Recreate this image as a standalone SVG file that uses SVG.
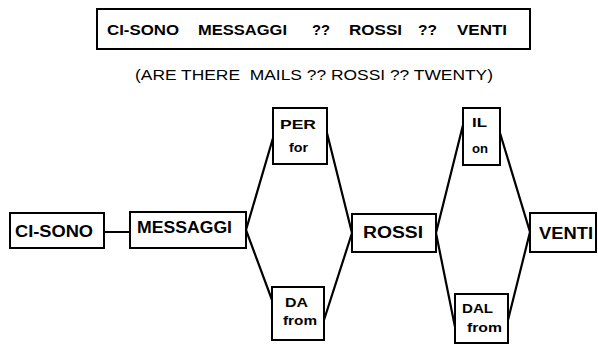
<svg xmlns="http://www.w3.org/2000/svg" width="598" height="344" viewBox="0 0 598 344">
<style>
.box{fill:#fff;stroke:#000;stroke-width:2}
.lbl{font-family:"Liberation Sans",Arial,sans-serif;font-weight:bold;fill:#000}
.big{font-size:16px}
.sm{font-size:13px}
.ttl{font-family:"Liberation Sans",Arial,sans-serif;font-weight:bold;font-size:14px;fill:#000}
.sub{font-family:"Liberation Sans",Arial,sans-serif;font-size:15px;fill:#000}
.conn line{stroke:#000;stroke-width:2.2;stroke-linecap:round}
</style>
<rect width="598" height="344" fill="#fff"/>
<g id="title">
<rect class="box" x="97" y="9" width="433" height="40"/>
<text class="ttl" y="35"><tspan x="107" textLength="72" lengthAdjust="spacingAndGlyphs">CI-SONO</tspan><tspan x="198" textLength="89" lengthAdjust="spacingAndGlyphs">MESSAGGI</tspan><tspan x="312" textLength="18" lengthAdjust="spacingAndGlyphs">??</tspan><tspan x="349" textLength="53" lengthAdjust="spacingAndGlyphs">ROSSI</tspan><tspan x="418" textLength="19" lengthAdjust="spacingAndGlyphs">??</tspan><tspan x="457" textLength="50" lengthAdjust="spacingAndGlyphs">VENTI</tspan></text>
</g>
<text class="sub" x="135" y="80" textLength="358" lengthAdjust="spacingAndGlyphs" xml:space="preserve">(ARE THERE  MAILS ?? ROSSI ?? TWENTY)</text>
<g id="connectors" class="conn">
<line x1="104" y1="232" x2="130" y2="232"/>
<line x1="246" y1="230" x2="273" y2="138"/>
<line x1="246" y1="230" x2="272" y2="300"/>
<line x1="327" y1="133" x2="352" y2="233"/>
<line x1="324" y1="320" x2="352" y2="233"/>
<line x1="436" y1="233" x2="463" y2="125"/>
<line x1="436" y1="233" x2="455" y2="327"/>
<line x1="500" y1="133" x2="530" y2="232"/>
<line x1="508" y1="320" x2="530" y2="232"/>
</g>
<g id="ci-sono">
<rect class="box" x="10" y="213" width="94" height="35"/>
<text class="lbl big" x="15" y="237" textLength="78" lengthAdjust="spacingAndGlyphs">CI-SONO</text>
</g>
<g id="messaggi">
<rect class="box" x="130" y="212" width="116" height="36"/>
<text class="lbl big" x="137" y="233" textLength="95" lengthAdjust="spacingAndGlyphs">MESSAGGI</text>
</g>
<g id="per">
<rect class="box" x="273" y="108" width="54" height="56"/>
<text class="lbl sm" x="280" y="129" textLength="36" lengthAdjust="spacingAndGlyphs">PER</text>
<text class="lbl sm" x="289" y="152" textLength="19" lengthAdjust="spacingAndGlyphs">for</text>
</g>
<g id="da">
<rect class="box" x="272" y="287" width="52" height="53"/>
<text class="lbl sm" x="285" y="307" textLength="23" lengthAdjust="spacingAndGlyphs">DA</text>
<text class="lbl sm" x="283" y="325" textLength="34" lengthAdjust="spacingAndGlyphs">from</text>
</g>
<g id="rossi">
<rect class="box" x="352" y="214" width="84" height="38"/>
<text class="lbl big" x="363" y="238" textLength="60" lengthAdjust="spacingAndGlyphs">ROSSI</text>
</g>
<g id="il">
<rect class="box" x="463" y="108" width="37" height="57"/>
<text class="lbl sm" x="472" y="127" textLength="15" lengthAdjust="spacingAndGlyphs">IL</text>
<text class="lbl sm" x="472" y="153" textLength="16" lengthAdjust="spacingAndGlyphs">on</text>
</g>
<g id="dal">
<rect class="box" x="455" y="294" width="53" height="49"/>
<text class="lbl sm" x="462" y="313" textLength="31" lengthAdjust="spacingAndGlyphs">DAL</text>
<text class="lbl sm" x="467" y="332" textLength="35" lengthAdjust="spacingAndGlyphs">from</text>
</g>
<g id="venti">
<rect class="box" x="530" y="213" width="66" height="39"/>
<text class="lbl big" x="539" y="239" textLength="54" lengthAdjust="spacingAndGlyphs">VENTI</text>
</g>
</svg>
